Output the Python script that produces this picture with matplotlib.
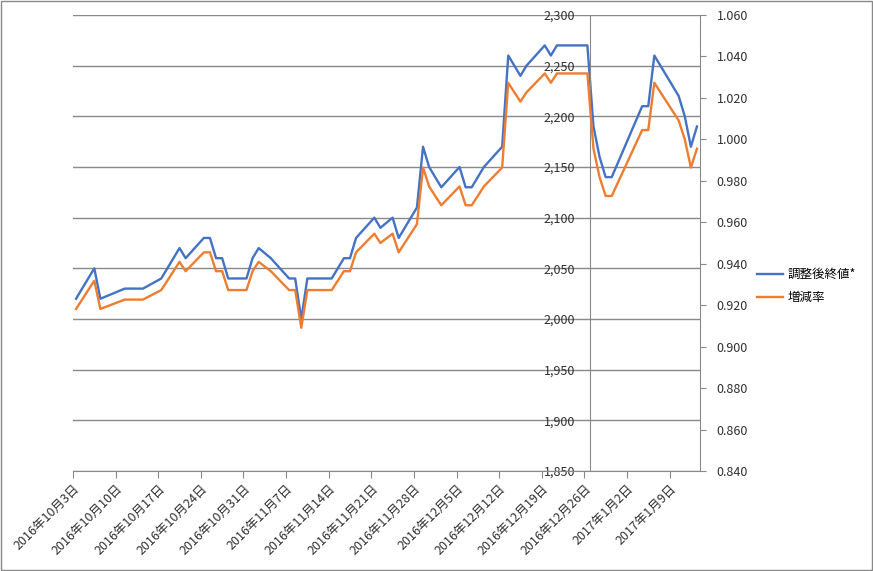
import pandas as pd
import matplotlib
matplotlib.use('Agg')
import matplotlib.pyplot as plt
import matplotlib.dates as mdates
from matplotlib.ticker import FuncFormatter

plt.rcParams['font.family'] = ['Noto Sans CJK JP', 'DejaVu Sans']

# trading days (TSE), Oct 2016 - Jan 2017
trade_days = [
    '2016-10-03', '2016-10-04', '2016-10-05', '2016-10-06', '2016-10-07',
    '2016-10-11', '2016-10-12', '2016-10-13', '2016-10-14',
    '2016-10-17', '2016-10-18', '2016-10-19', '2016-10-20', '2016-10-21',
    '2016-10-24', '2016-10-25', '2016-10-26', '2016-10-27', '2016-10-28',
    '2016-10-31', '2016-11-01', '2016-11-02', '2016-11-04',
    '2016-11-07', '2016-11-08', '2016-11-09', '2016-11-10', '2016-11-11',
    '2016-11-14', '2016-11-15', '2016-11-16', '2016-11-17', '2016-11-18',
    '2016-11-21', '2016-11-22', '2016-11-24', '2016-11-25',
    '2016-11-28', '2016-11-29', '2016-11-30', '2016-12-01', '2016-12-02',
    '2016-12-05', '2016-12-06', '2016-12-07', '2016-12-08', '2016-12-09',
    '2016-12-12', '2016-12-13', '2016-12-14', '2016-12-15', '2016-12-16',
    '2016-12-19', '2016-12-20', '2016-12-21', '2016-12-22',
    '2016-12-26', '2016-12-27', '2016-12-28', '2016-12-29', '2016-12-30',
    '2017-01-04', '2017-01-05', '2017-01-06',
    '2017-01-10', '2017-01-11', '2017-01-12', '2017-01-13',
]

# 調整後終値*
price = [
    2020, 2030, 2040, 2050, 2020,
    2030, 2030, 2030, 2030,
    2040, 2050, 2060, 2070, 2060,
    2080, 2080, 2060, 2060, 2040,
    2040, 2060, 2070, 2060,
    2040, 2040, 2000, 2040, 2040,
    2040, 2050, 2060, 2060, 2080,
    2100, 2090, 2100, 2080,
    2110, 2170, 2150, 2140, 2130,
    2150, 2130, 2130, 2140, 2150,
    2170, 2260, 2250, 2240, 2250,
    2270, 2260, 2270, 2270,
    2270, 2190, 2160, 2140, 2140,
    2210, 2210, 2260,
    2220, 2200, 2170, 2190,
]

# 増減率
ratio = [
    0.9182, 0.9227, 0.9273, 0.9318, 0.9182,
    0.9227, 0.9227, 0.9227, 0.9227,
    0.9273, 0.9318, 0.9364, 0.9409, 0.9364,
    0.9455, 0.9455, 0.9364, 0.9364, 0.9273,
    0.9273, 0.9364, 0.9409, 0.9364,
    0.9273, 0.9273, 0.9091, 0.9273, 0.9273,
    0.9273, 0.9318, 0.9364, 0.9364, 0.9455,
    0.9545, 0.9500, 0.9545, 0.9455,
    0.9591, 0.9864, 0.9773, 0.9727, 0.9682,
    0.9773, 0.9682, 0.9682, 0.9727, 0.9773,
    0.9864, 1.0273, 1.0227, 1.0182, 1.0227,
    1.0318, 1.0273, 1.0318, 1.0318,
    1.0318, 0.9955, 0.9818, 0.9727, 0.9727,
    1.0045, 1.0045, 1.0273,
    1.0091, 1.0000, 0.9864, 0.9955,
]

week_ticks = ['2016-10-03', '2016-10-10', '2016-10-17', '2016-10-24', '2016-10-31',
              '2016-11-07', '2016-11-14', '2016-11-21', '2016-11-28', '2016-12-05',
              '2016-12-12', '2016-12-19', '2016-12-26', '2017-01-02', '2017-01-09']
tick_labels = ['2016年10月3日', '2016年10月10日', '2016年10月17日', '2016年10月24日',
               '2016年10月31日', '2016年11月7日', '2016年11月14日', '2016年11月21日',
               '2016年11月28日', '2016年12月5日', '2016年12月12日', '2016年12月19日',
               '2016年12月26日', '2017年1月2日', '2017年1月9日']

grey = '#898989'
txt = '#303030'

# excel date axis puts the point in the middle of the day
x = pd.to_datetime(trade_days) + pd.Timedelta(hours=12)

fig = plt.figure(figsize=(8.73, 5.71), dpi=100)
ax = fig.add_axes([73/873, 1 - 471/571, (700 - 73)/873, (471 - 15)/571])
ax2 = ax.twinx()

ax.plot(x, price, color='#4472C4', lw=1.7, label='調整後終値*')
ax2.plot(x, ratio, color='#ED7D31', lw=1.7, label='増減率')

ax.set_xlim(pd.Timestamp('2016-10-03'), pd.Timestamp('2017-01-14'))
ax.set_ylim(1850, 2300)
ax.set_yticks(range(1850, 2301, 50))
ax.yaxis.set_major_formatter(FuncFormatter(lambda v, p: f'{v:,.0f}'))
ax.grid(axis='y', color=grey, lw=1)
ax.set_axisbelow(True)

ax2.set_ylim(0.84, 1.06)
ax2.set_yticks([0.84 + 0.02*i for i in range(12)])
ax2.yaxis.set_major_formatter(FuncFormatter(lambda v, p: f'{v:.3f}'))

# vertical axis crosses the date axis at 2016-12-27
ax.spines['left'].set_position(('data', mdates.date2num(pd.Timestamp('2016-12-27'))))
ax.spines['left'].set_color(grey)
ax.spines['bottom'].set_color(grey)
ax.spines['top'].set_visible(False)
ax.spines['right'].set_visible(False)
for s in ['top', 'left', 'bottom']:
    ax2.spines[s].set_visible(False)
ax2.spines['right'].set_color(grey)

ax.set_xticks(pd.to_datetime(week_ticks))
ax.set_xticklabels(tick_labels, rotation=45, ha='right', va='top', rotation_mode='anchor')
ax.tick_params(axis='x', length=5, color=grey, pad=3, labelsize=9, labelcolor=txt)
ax.tick_params(axis='y', length=0, pad=11, labelsize=9, labelcolor=txt)
ax2.tick_params(axis='y', length=4, color=grey, pad=8, labelsize=9, labelcolor=txt)

h1, l1 = ax.get_legend_handles_labels()
h2, l2 = ax2.get_legend_handles_labels()
fig.legend(h1 + h2, l1 + l2, loc='upper left', bbox_to_anchor=(757/873, 1 - 268/571),
           frameon=False, fontsize=9, handlelength=2.1, handletextpad=0.35,
           labelspacing=0.8, borderpad=0, borderaxespad=0)

# chart area border
fig.add_artist(plt.Rectangle((0.0006, 0.001), 0.9985, 0.9975, transform=fig.transFigure,
                             fill=False, edgecolor=grey, lw=1))

fig.savefig('out.png', dpi=100)
